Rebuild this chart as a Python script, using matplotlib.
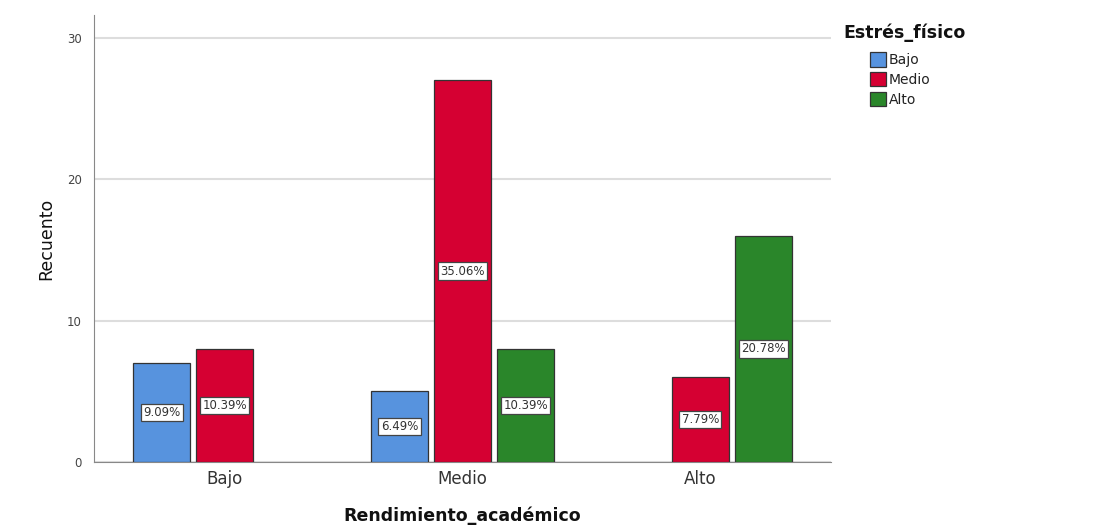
import matplotlib
matplotlib.use("Agg")
import matplotlib.pyplot as plt
import numpy as np

categories = ["Bajo", "Medio", "Alto"]
series_names = ["Bajo", "Medio", "Alto"]
# counts per series (Estrés_físico) for each Rendimiento_académico category; None = no bar
bajo_vals = [7, 5, None]
medio_vals = [8, 27, 6]
alto_vals = [None, 8, 16]
total = 77
yticks = [0, 10, 20, 30]
colors = ["#5793DE", "#D50032", "#2A862A"]

plt.rcParams['font.family'] = ['DejaVu Sans']

fig = plt.figure(figsize=(10.96, 5.31), dpi=100)
ax = fig.add_axes([94/1096, 1-462/531, (831-94)/1096, (462-15)/531])

x = np.arange(len(categories))
width = 0.24
offset = 0.265
all_series = [bajo_vals, medio_vals, alto_vals]
handles = []
for i, (vals, name, col) in enumerate(zip(all_series, series_names, colors)):
    xs = [xi + (i-1)*offset for xi, v in zip(x, vals) if v is not None]
    vs = [v for v in vals if v is not None]
    bars = ax.bar(xs, vs, width=width, color=col, edgecolor="#333333", linewidth=0.9, zorder=3, label=name)
    handles.append(bars)
    for bx, v in zip(xs, vs):
        ax.text(bx, v/2, f"{v/total*100:.2f}%", ha="center", va="center", fontsize=8.5, color="#333333",
                zorder=4, bbox=dict(boxstyle="square,pad=0.2", fc="white", ec="#444444", lw=0.9))

ax.set_xlim(-0.55, 2.55)
ax.set_ylim(0, 31.6)
ax.set_yticks(yticks)
ax.set_xticks(x)
ax.set_xticklabels(categories, fontsize=12, color="#333333")
ax.tick_params(axis='y', labelsize=8.5, colors="#444444", length=0, pad=9)
ax.tick_params(axis='x', length=0, pad=6)
ax.yaxis.grid(True, color="#DDDDDD", linewidth=1.5, zorder=0)
ax.set_axisbelow(True)
for s in ["top", "right"]:
    ax.spines[s].set_visible(False)
ax.spines["left"].set_color("#888888")
ax.spines["bottom"].set_color("#888888")
ax.set_ylabel("Recuento", fontsize=12.5, labelpad=8, color="#111111")
ax.set_xlabel("Rendimiento_académico", fontsize=12.5, fontweight="bold", labelpad=13, color="#111111")

fig.text(843/1096, 1-33/531, "Estrés_físico", fontsize=12.5, fontweight="bold", color="#111111",
         ha="left", va="center")
leg = fig.legend(handles=handles, labels=series_names,
                 loc="upper left", bbox_to_anchor=(857/1096, 1-40/531), frameon=False,
                 fontsize=10, handlelength=1.2, handleheight=1.2, handletextpad=0.2, labelspacing=0.35)
for h in leg.legend_handles:
    h.set_linewidth(0.9)
for t in leg.get_texts():
    t.set_color("#222222")

fig.savefig("out.png", dpi=100)
